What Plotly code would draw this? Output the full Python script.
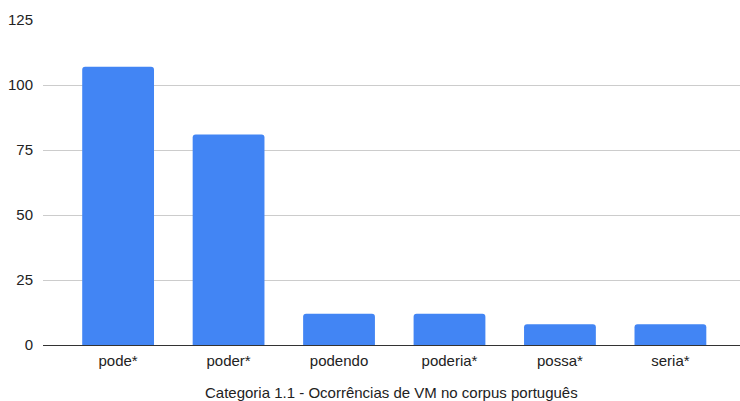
import plotly.graph_objects as go

# Verb forms and their counts in the Portuguese corpus
categories = ["pode*", "poder*", "podendo", "poderia*", "possa*", "seria*"]
counts = [107, 81, 12, 12, 8, 8]
y_ticks = [0, 25, 50, 75, 100, 125]
x_title = "Categoria 1.1 - Ocorrências de VM no corpus português"

fig = go.Figure(
    go.Bar(
        x=categories,
        y=counts,
        marker=dict(color="#4285F4", line=dict(width=0)),
        width=0.65,
    )
)

fig.update_layout(
    width=740,
    height=401,
    margin=dict(l=43, r=0, t=20, b=56),
    paper_bgcolor="white",
    plot_bgcolor="white",
    barcornerradius=3,
    font=dict(family="Liberation Sans, Arial, sans-serif", size=15, color="#222222"),
    showlegend=False,
    annotations=[
        dict(
            text=x_title,
            xref="paper",
            yref="paper",
            x=0.5,
            y=-0.145,
            xanchor="center",
            yanchor="middle",
            showarrow=False,
            font=dict(size=15, color="#222222"),
        )
    ],
)

fig.update_xaxes(
    range=[-0.68, 5.63],
    showgrid=False,
    showline=True,
    linecolor="#333333",
    linewidth=1,
    ticks="",
    ticklabelstandoff=2,
    tickfont=dict(size=15, color="#222222"),
)

fig.update_yaxes(
    range=[0, 125],
    tickvals=y_ticks,
    showgrid=True,
    gridcolor="#cccccc",
    gridwidth=1,
    zeroline=False,
    showline=False,
    ticks="",
    ticklabelstandoff=9,
    tickfont=dict(size=15, color="#222222"),
)

fig.write_html("out.html")
